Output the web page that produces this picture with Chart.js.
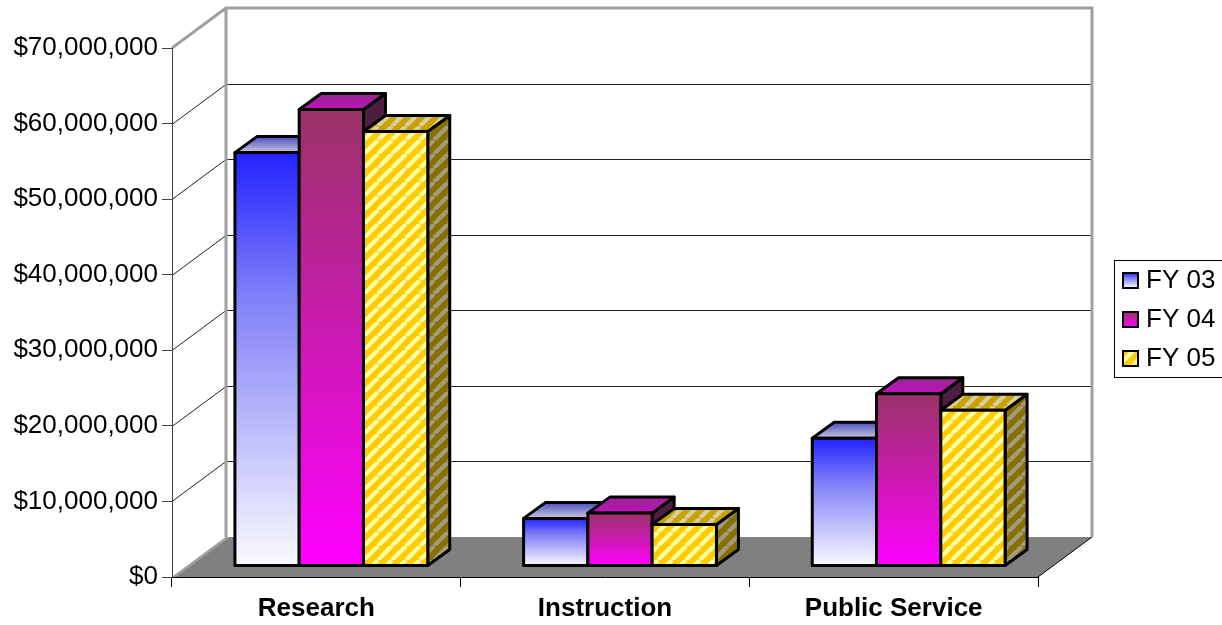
<!DOCTYPE html>
<html>
<head>
<meta charset="utf-8">
<script src="https://cdn.jsdelivr.net/npm/chart.js@4.4.1/dist/chart.umd.min.js"></script>
<style>
  html, body { margin: 0; padding: 0; background: #fff; }
  canvas { display: block; }
</style>
</head>
<body>
<canvas id="chart" width="1222" height="625"></canvas>
<script>
// data
const categories = ['Research', 'Instruction', 'Public Service'];
const seriesNames = ['FY 03', 'FY 04', 'FY 05'];
const fy03 = [54700000, 6300000, 16900000];
const fy04 = [60400000, 7000000, 22800000];
const fy05 = [57500000, 5500000, 20600000];
const yMax = 70000000;
const yStep = 10000000;

const FONT = '"Liberation Sans", Arial, sans-serif';

// oblique projection offsets
const WALL_DX = 54, WALL_DY = -40;
const BAR_DX = 15, BAR_DY = -11;
const DEPTH_DX = 22, DEPTH_DY = -16;

function money(v) {
    return '$' + String(Math.round(v)).replace(/\B(?=(\d{3})+(?!\d))/g, ',');
}

function stripes(base, light, size, lw) {
    const c = document.createElement('canvas');
    c.width = size; c.height = size;
    const g = c.getContext('2d');
    g.fillStyle = base;
    g.fillRect(0, 0, size, size);
    g.strokeStyle = light;
    g.lineWidth = lw;
    for (let k = -1; k <= 1; k++) {
        g.beginPath();
        g.moveTo(k * size, size);
        g.lineTo(k * size + size, 0);
        g.stroke();
    }
    return g.createPattern(c, 'repeat');
}

function vgrad(ctx, y0, y1, stops) {
    const g = ctx.createLinearGradient(0, y0, 0, y1);
    stops.forEach(s => g.addColorStop(s[0], s[1]));
    return g;
}

// face styles per series: front, top, side
function faceStyles(ctx, s, yTop, yBot) {
    const yBack = yTop + DEPTH_DY;
    if (s === 0) {
        return {
            front: vgrad(ctx, yTop, yBot, [[0, '#2222ff'], [0.35, '#8080f8'], [1, '#fafaff']]),
            top: vgrad(ctx, yBack, yTop, [[0, '#4c4cc4'], [1, '#c8c8d8']]),
            side: vgrad(ctx, yTop, yBot, [[0, '#10107a'], [1, '#7a7a8a']])
        };
    }
    if (s === 1) {
        return {
            front: vgrad(ctx, yTop, yBot, [[0, '#993366'], [1, '#ff00ff']]),
            top: vgrad(ctx, yBack, yTop, [[0, '#98288e'], [1, '#c010c0']]),
            side: vgrad(ctx, yTop, yBot, [[0, '#4e1e42'], [1, '#7a007a']])
        };
    }
    return {
        front: stripes('#ffcc00', '#ffffa8', 14, 4.2),
        top: stripes('#c9a100', '#d8cf9e', 14, 4.2),
        side: stripes('#877000', '#a39c7a', 14, 4.2)
    };
}

function poly(ctx, pts, fill) {
    ctx.beginPath();
    ctx.moveTo(pts[0][0], pts[0][1]);
    for (let i = 1; i < pts.length; i++) ctx.lineTo(pts[i][0], pts[i][1]);
    ctx.closePath();
    ctx.fillStyle = fill;
    ctx.fill();
    ctx.stroke();
}

const threeD = {
    id: 'threeD',
    beforeDraw(chart) {
        const ctx = chart.ctx;
        const a = chart.chartArea;
        const ys = chart.scales.y;
        const L = a.left, R = a.right, T = a.top, B = a.bottom;
        ctx.save();
        // floor
        ctx.fillStyle = '#808080';
        ctx.beginPath();
        ctx.moveTo(L, B);
        ctx.lineTo(R, B);
        ctx.lineTo(R + WALL_DX, B + WALL_DY);
        ctx.lineTo(L + WALL_DX, B + WALL_DY);
        ctx.closePath();
        ctx.fill();
        // light base strip of the left wall
        ctx.fillStyle = '#a0a0a0';
        ctx.beginPath();
        ctx.moveTo(L, B);
        ctx.lineTo(L + WALL_DX, B + WALL_DY);
        ctx.lineTo(L + WALL_DX + 4, B + WALL_DY);
        ctx.lineTo(L + 4, B);
        ctx.closePath();
        ctx.fill();
        // floor right edge
        ctx.strokeStyle = '#000';
        ctx.lineWidth = 1;
        ctx.beginPath();
        ctx.moveTo(R, B);
        ctx.lineTo(R + WALL_DX, B + WALL_DY);
        ctx.stroke();
        // gridlines on walls
        ctx.strokeStyle = '#222';
        ctx.lineWidth = 1;
        for (let v = yStep; v < yMax; v += yStep) {
            const y = Math.round(ys.getPixelForValue(v)) + 0.5;
            ctx.beginPath();
            ctx.moveTo(L, y);
            ctx.lineTo(L + WALL_DX, y + WALL_DY);
            ctx.lineTo(R + WALL_DX, y + WALL_DY);
            ctx.stroke();
        }
        // wall edges
        ctx.strokeStyle = '#a0a0a0';
        ctx.lineWidth = 3;
        ctx.beginPath();
        ctx.moveTo(L, T);
        ctx.lineTo(L + WALL_DX, T + WALL_DY);
        ctx.lineTo(R + WALL_DX, T + WALL_DY);
        ctx.lineTo(R + WALL_DX, B + WALL_DY);
        ctx.moveTo(L + WALL_DX, T + WALL_DY);
        ctx.lineTo(L + WALL_DX, B + WALL_DY);
        ctx.stroke();
        ctx.restore();
    },
    afterDatasetsDraw(chart) {
        const ctx = chart.ctx;
        ctx.save();
        ctx.strokeStyle = '#000';
        ctx.lineWidth = 3;
        ctx.lineJoin = 'round';
        for (let i = 0; i < categories.length; i++) {
            for (let s = 0; s < chart.data.datasets.length; s++) {
                const el = chart.getDatasetMeta(s).data[i];
                const p = el.getProps(['x', 'y', 'base', 'width'], true);
                const x0 = p.x - p.width / 2 + BAR_DX;
                const x1 = p.x + p.width / 2 + BAR_DX;
                const yTop = p.y + BAR_DY;
                const yBot = p.base + BAR_DY;
                const f = faceStyles(ctx, s, yTop, yBot);
                poly(ctx, [[x1, yTop], [x1 + DEPTH_DX, yTop + DEPTH_DY], [x1 + DEPTH_DX, yBot + DEPTH_DY], [x1, yBot]], f.side);
                poly(ctx, [[x0, yTop], [x1, yTop], [x1 + DEPTH_DX, yTop + DEPTH_DY], [x0 + DEPTH_DX, yTop + DEPTH_DY]], f.top);
                poly(ctx, [[x0, yTop], [x1, yTop], [x1, yBot], [x0, yBot]], f.front);
            }
        }
        ctx.restore();
    },
    afterDraw(chart) {
        // legend
        const ctx = chart.ctx;
        ctx.save();
        ctx.strokeStyle = '#000';
        ctx.lineWidth = 1;
        ctx.strokeRect(1114.5, 260.5, 120, 117);
        ctx.font = '26px ' + FONT;
        ctx.textBaseline = 'middle';
        ctx.textAlign = 'left';
        seriesNames.forEach((name, s) => {
            const cy = 280 + s * 39;
            const f = faceStyles(ctx, s, cy - 7, cy + 8);
            ctx.fillStyle = f.front;
            ctx.fillRect(1123, cy - 7, 15, 15);
            ctx.lineWidth = 2;
            ctx.strokeRect(1123, cy - 7, 15, 15);
            ctx.fillStyle = '#000';
            ctx.fillText(name, 1146, cy + 1);
        });
        ctx.restore();
    }
};

const ctx = document.getElementById('chart').getContext('2d');
new Chart(ctx, {
    type: 'bar',
    data: {
        labels: categories,
        datasets: [
            { label: seriesNames[0], data: fy03 },
            { label: seriesNames[1], data: fy04 },
            { label: seriesNames[2], data: fy05 }
        ].map(d => Object.assign(d, { backgroundColor: 'rgba(0,0,0,0)', borderWidth: 0 }))
    },
    options: {
        responsive: false,
        animation: false,
        devicePixelRatio: 1,
        layout: { padding: { top: 48, right: 184, left: 0, bottom: 0 } },
        datasets: { bar: { categoryPercentage: 0.668, barPercentage: 1 } },
        plugins: {
            legend: { display: false },
            tooltip: { enabled: false }
        },
        scales: {
            x: {
                grid: { display: true, drawOnChartArea: false, tickLength: 10, color: '#000', offset: true },
                border: { color: '#000', width: 1 },
                ticks: { font: { family: FONT, size: 26, weight: 'bold' }, color: '#000', padding: 6 },
                afterFit: s => { s.height = 48; }
            },
            y: {
                min: 0,
                max: yMax,
                ticks: { stepSize: yStep, callback: v => money(v), font: { family: FONT, size: 26 }, color: '#000', padding: 4 },
                grid: { drawOnChartArea: false, tickLength: 10, color: '#444' },
                border: { color: '#444', width: 1 },
                afterFit: s => { s.width = 172; }
            }
        }
    },
    plugins: [threeD]
});
</script>
</body>
</html>
